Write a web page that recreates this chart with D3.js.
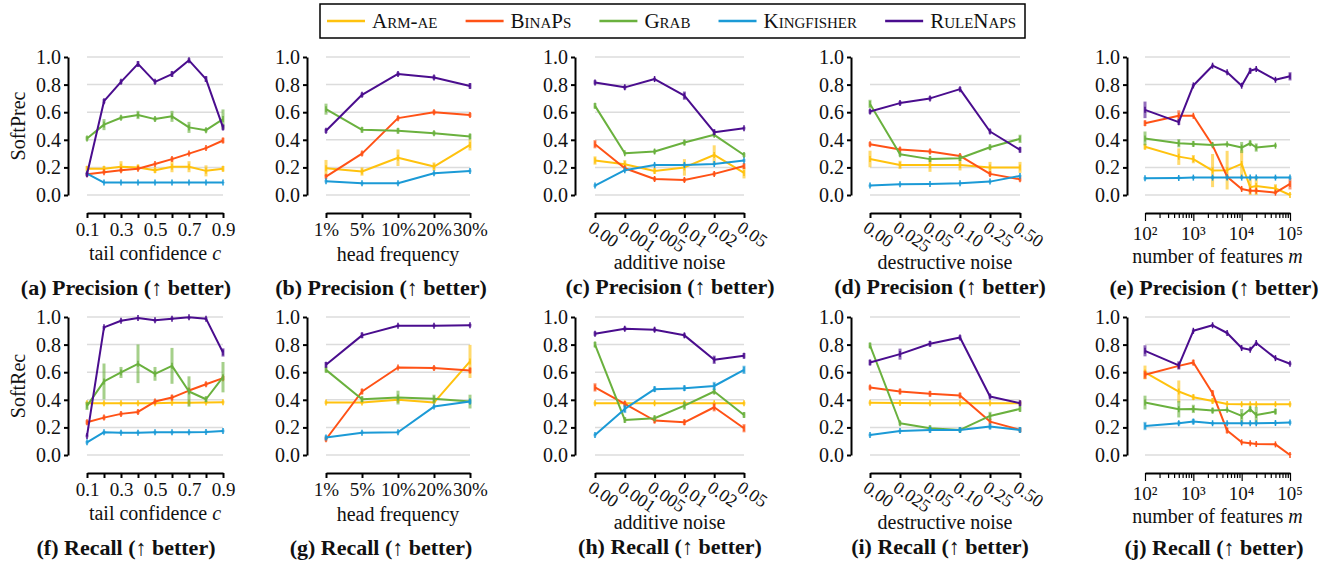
<!DOCTYPE html>
<html>
<head>
<meta charset="utf-8">
<script src="https://cdn.jsdelivr.net/npm/d3@7"></script>
<style>
body { margin: 0; background: #fff; }
text { font-family: "Liberation Serif", "DejaVu Serif", serif; fill: #111; }
</style>
</head>
<body>
<svg id="chart" width="1327" height="563"></svg>
<script>
const methods = ["Arm-ae", "BinaPs", "Grab", "Kingfisher", "RuleNaps"];
const colors = ["#ffc20e", "#ff5216", "#6ab13e", "#1b9ad6", "#4a0d8e"];

// x values per experiment
const tailConf = [0.1, 0.2, 0.3, 0.4, 0.5, 0.6, 0.7, 0.8, 0.9];
const headFreq = ["1%", "5%", "10%", "20%", "30%"];
const addNoise = ["0.00", "0.001", "0.005", "0.01", "0.02", "0.05"];
const destNoise = ["0.00", "0.025", "0.05", "0.10", "0.25", "0.50"];
const numFeat = [100, 500, 1000, 2500, 5000, 10000, 15000, 20000, 50000, 100000];
const yTicks = [0, 0.2, 0.4, 0.6, 0.8, 1.0];

// values, one row per method (Arm-ae, BinaPs, Grab, Kingfisher, RuleNaps)
const precTail = [
  [0.19, 0.19, 0.205, 0.2, 0.18, 0.205, 0.205, 0.175, 0.19],
  [0.15, 0.165, 0.18, 0.19, 0.225, 0.26, 0.30, 0.34, 0.395],
  [0.41, 0.51, 0.56, 0.58, 0.55, 0.57, 0.49, 0.47, 0.55],
  [0.155, 0.09, 0.09, 0.09, 0.09, 0.09, 0.09, 0.09, 0.09],
  [0.15, 0.68, 0.82, 0.95, 0.82, 0.876, 0.976, 0.84, 0.49]
];
const precTailErr = [
  [0.02, 0.02, 0.04, 0.02, 0.02, 0.04, 0.04, 0.04, 0.02],
  [0.01, 0.01, 0.01, 0.01, 0.01, 0.015, 0.01, 0.01, 0.02],
  [0.015, 0.04, 0.015, 0.03, 0.015, 0.04, 0.04, 0.015, 0.07],
  [0.005, 0.005, 0.005, 0.005, 0.005, 0.005, 0.005, 0.005, 0.005],
  [0.015, 0.015, 0.015, 0.02, 0.015, 0.02, 0.015, 0.02, 0.02]
];
const precHead = [
  [0.194, 0.17, 0.27, 0.206, 0.363],
  [0.133, 0.30, 0.557, 0.60, 0.58],
  [0.622, 0.472, 0.465, 0.448, 0.424],
  [0.10, 0.085, 0.085, 0.157, 0.174],
  [0.465, 0.726, 0.877, 0.852, 0.79]
];
const precHeadErr = [
  [0.06, 0.03, 0.06, 0.03, 0.04],
  [0.015, 0.015, 0.015, 0.015, 0.015],
  [0.04, 0.02, 0.02, 0.015, 0.02],
  [0.01, 0.01, 0.01, 0.01, 0.01],
  [0.015, 0.015, 0.015, 0.015, 0.02]
];
const precAdd = [
  [0.25, 0.223, 0.174, 0.2, 0.29, 0.16],
  [0.368, 0.194, 0.116, 0.109, 0.153, 0.21],
  [0.646, 0.303, 0.315, 0.38, 0.436, 0.29],
  [0.068, 0.18, 0.218, 0.218, 0.225, 0.25],
  [0.816, 0.78, 0.84, 0.72, 0.455, 0.484]
];
const precAddErr = [
  [0.03, 0.03, 0.02, 0.06, 0.07, 0.04],
  [0.03, 0.015, 0.015, 0.015, 0.015, 0.02],
  [0.02, 0.01, 0.015, 0.02, 0.015, 0.015],
  [0.01, 0.01, 0.01, 0.01, 0.01, 0.01],
  [0.015, 0.015, 0.01, 0.03, 0.02, 0.01]
];
const precDest = [
  [0.261, 0.218, 0.218, 0.218, 0.20, 0.20],
  [0.368, 0.33, 0.315, 0.283, 0.153, 0.114],
  [0.66, 0.295, 0.26, 0.266, 0.346, 0.407],
  [0.068, 0.077, 0.08, 0.085, 0.097, 0.138],
  [0.605, 0.666, 0.70, 0.767, 0.46, 0.327]
];
const precDestErr = [
  [0.06, 0.03, 0.05, 0.04, 0.04, 0.04],
  [0.015, 0.015, 0.015, 0.015, 0.015, 0.015],
  [0.03, 0.015, 0.02, 0.02, 0.02, 0.03],
  [0.008, 0.008, 0.008, 0.008, 0.008, 0.008],
  [0.015, 0.015, 0.015, 0.015, 0.015, 0.02]
];
const precFeat = [
  [0.35, 0.278, 0.26, 0.177, 0.18, 0.225, 0.056, 0.065, 0.048, 0.0],
  [0.52, 0.574, 0.574, 0.36, 0.133, 0.044, 0.031, 0.031, 0.017, 0.08],
  [0.41, 0.375, 0.37, 0.363, 0.368, 0.344, 0.375, 0.344, 0.358, null],
  [0.121, 0.124, 0.126, 0.126, 0.126, 0.126, 0.126, 0.126, 0.126, 0.126],
  [0.617, 0.528, 0.794, 0.937, 0.889, 0.792, 0.90, 0.913, 0.835, 0.86]
];
const precFeatErr = [
  [0.02, 0.06, 0.03, 0.12, 0.14, 0.10, 0.06, 0.07, 0.03, 0.01],
  [0.02, 0.04, 0.01, 0.01, 0.01, 0.01, 0.01, 0.01, 0.01, 0.04],
  [0.05, 0.03, 0.02, 0.01, 0.01, 0.04, 0.02, 0.03, 0.01, null],
  [0.01, 0.01, 0.01, 0.01, 0.01, 0.01, 0.01, 0.01, 0.01, 0.01],
  [0.06, 0.02, 0.01, 0.01, 0.01, 0.01, 0.02, 0.01, 0.01, 0.03]
];
const recTail = [
  [0.375, 0.375, 0.375, 0.375, 0.375, 0.378, 0.378, 0.38, 0.383],
  [0.237, 0.271, 0.298, 0.312, 0.387, 0.416, 0.467, 0.513, 0.557],
  [0.356, 0.533, 0.598, 0.661, 0.588, 0.646, 0.46, 0.404, 0.564],
  [0.092, 0.165, 0.162, 0.162, 0.165, 0.165, 0.165, 0.167, 0.174],
  [0.138, 0.925, 0.973, 0.993, 0.976, 0.988, 0.998, 0.988, 0.743]
];
const recTailErr = [
  [0.01, 0.01, 0.01, 0.01, 0.01, 0.01, 0.01, 0.01, 0.01],
  [0.015, 0.015, 0.015, 0.015, 0.015, 0.02, 0.015, 0.015, 0.015],
  [0.03, 0.13, 0.04, 0.14, 0.05, 0.13, 0.11, 0.02, 0.11],
  [0.01, 0.01, 0.01, 0.01, 0.01, 0.01, 0.01, 0.01, 0.01],
  [0.01, 0.01, 0.01, 0.01, 0.01, 0.01, 0.01, 0.01, 0.03]
];
const recHead = [
  [0.38, 0.38, 0.40, 0.38, 0.678],
  [0.114, 0.46, 0.634, 0.63, 0.613],
  [0.617, 0.404, 0.416, 0.407, 0.387],
  [0.126, 0.162, 0.165, 0.351, 0.387],
  [0.654, 0.867, 0.937, 0.937, 0.94]
];
const recHeadErr = [
  [0.01, 0.01, 0.02, 0.01, 0.12],
  [0.015, 0.02, 0.01, 0.015, 0.02],
  [0.02, 0.02, 0.05, 0.03, 0.05],
  [0.015, 0.01, 0.01, 0.01, 0.015],
  [0.02, 0.02, 0.01, 0.01, 0.01]
];
const recAdd = [
  [0.375, 0.375, 0.375, 0.375, 0.375, 0.375],
  [0.49, 0.37, 0.25, 0.237, 0.346, 0.194],
  [0.80, 0.254, 0.266, 0.358, 0.46, 0.29],
  [0.145, 0.334, 0.477, 0.484, 0.50, 0.617],
  [0.879, 0.915, 0.908, 0.867, 0.69, 0.719]
];
const recAddErr = [
  [0.01, 0.01, 0.01, 0.01, 0.01, 0.01],
  [0.03, 0.02, 0.02, 0.02, 0.03, 0.03],
  [0.02, 0.02, 0.02, 0.03, 0.02, 0.02],
  [0.01, 0.03, 0.02, 0.02, 0.03, 0.03],
  [0.015, 0.015, 0.015, 0.015, 0.03, 0.02]
];
const recDest = [
  [0.378, 0.376, 0.375, 0.375, 0.375, 0.375],
  [0.489, 0.46, 0.443, 0.431, 0.242, 0.182],
  [0.794, 0.23, 0.194, 0.182, 0.283, 0.334],
  [0.145, 0.174, 0.182, 0.182, 0.206, 0.182],
  [0.67, 0.731, 0.806, 0.852, 0.424, 0.375]
];
const recDestErr = [
  [0.01, 0.01, 0.01, 0.01, 0.01, 0.01],
  [0.015, 0.02, 0.02, 0.02, 0.02, 0.015],
  [0.02, 0.015, 0.02, 0.015, 0.03, 0.02],
  [0.01, 0.01, 0.02, 0.02, 0.02, 0.02],
  [0.02, 0.04, 0.02, 0.015, 0.015, 0.02]
];
const recFeat = [
  [0.598, 0.46, 0.419, 0.392, 0.37, 0.368, 0.368, 0.368, 0.368, 0.368],
  [0.581, 0.646, 0.67, 0.448, 0.177, 0.092, 0.085, 0.08, 0.077, 0.0],
  [0.38, 0.332, 0.334, 0.322, 0.327, 0.283, 0.332, 0.29, 0.315, null],
  [0.21, 0.23, 0.242, 0.23, 0.23, 0.23, 0.23, 0.23, 0.232, 0.235],
  [0.755, 0.649, 0.90, 0.94, 0.884, 0.775, 0.763, 0.811, 0.702, 0.661]
];
const recFeatErr = [
  [0.05, 0.08, 0.02, 0.02, 0.01, 0.01, 0.01, 0.01, 0.01, 0.01],
  [0.03, 0.02, 0.02, 0.02, 0.02, 0.01, 0.01, 0.01, 0.01, 0.01],
  [0.05, 0.06, 0.03, 0.02, 0.01, 0.05, 0.02, 0.06, 0.02, null],
  [0.03, 0.015, 0.02, 0.01, 0.01, 0.01, 0.01, 0.01, 0.01, 0.01],
  [0.04, 0.03, 0.01, 0.01, 0.01, 0.01, 0.01, 0.01, 0.01, 0.01]
];

const svg = d3.select("#chart");
const FS = "20px";   // y ticks, titles
const XFS = "19px";  // x tick labels

// column geometry
const cols = [
  {axisX: 68, x0: 87, x1: 223, cx: 126, kind: "linear", xs: tailConf, title: "tail confidence ", titleIt: "c", titleY: 260, capY: 295},
  {axisX: 307, x0: 326, x1: 470, cx: 381, kind: "point", xs: headFreq, title: "head frequency", titleY: 261, capY: 295},
  {axisX: 575, x0: 595, x1: 744, cx: 670, kind: "rot", xs: addNoise, title: "additive noise", titleY: 269, capY: 294},
  {axisX: 851, x0: 870, x1: 1020, cx: 940, kind: "rot", xs: destNoise, title: "destructive noise", titleY: 269, capY: 294},
  {axisX: 1127, x0: 1145, x1: 1290, cx: 1214, kind: "log", xs: numFeat, title: "number of features ", titleIt: "m", titleY: 263, capY: 295}
];
const rows = [
  {off: 0, label: "SoftPrec", cap: "Precision", letters: "abcde",
   vals: [precTail, precHead, precAdd, precDest, precFeat],
   errs: [precTailErr, precHeadErr, precAddErr, precDestErr, precFeatErr]},
  {off: 260, label: "SoftRec", cap: "Recall", letters: "fghij",
   vals: [recTail, recHead, recAdd, recDest, recFeat],
   errs: [recTailErr, recHeadErr, recAddErr, recDestErr, recFeatErr]}
];

const supers = {"2": "²", "3": "³", "4": "⁴", "5": "⁵"};

rows.forEach(row => {
  const y = d3.scaleLinear().domain([0, 1]).range([195 + row.off, 57 + row.off]);
  const xAxisY = 213 + row.off;

  svg.append("text")
    .attr("transform", `translate(18,${126 + row.off}) rotate(-90)`)
    .attr("text-anchor", "middle")
    .attr("dy", "0.35em")
    .style("font-size", FS)
    .text(row.label);

  cols.forEach((col, ci) => {
    const g = svg.append("g");
    let x;
    if (col.kind === "linear") x = d3.scaleLinear().domain([0.1, 0.9]).range([col.x0, col.x1]);
    else if (col.kind === "log") x = d3.scaleLog().domain([100, 100000]).range([col.x0, col.x1]);
    else x = d3.scalePoint().domain(col.xs).range([col.x0, col.x1]);

    // grid
    g.selectAll(".grid").data(yTicks).enter().append("line")
      .attr("x1", col.x0).attr("x2", col.x1)
      .attr("y1", d => y(d)).attr("y2", d => y(d))
      .attr("stroke", "#dcdcdc").attr("stroke-width", 1.5);

    // y axis
    const ya = g.append("g")
      .attr("transform", `translate(${col.axisX},0)`)
      .call(d3.axisLeft(y).tickValues(yTicks).tickFormat(d3.format(".1f")).tickSize(4).tickSizeOuter(0).tickPadding(3));
    ya.selectAll("path, line").attr("stroke", "#000").attr("stroke-width", 2);
    ya.selectAll("text").style("font-size", FS).attr("fill", "#111");

    // x axis
    let xa;
    if (col.kind === "linear") {
      xa = d3.axisBottom(x).tickValues(tailConf).tickFormat(d => (Math.round(d * 10) % 2 === 1) ? d3.format(".1f")(d) : "");
    } else if (col.kind === "log") {
      xa = d3.axisBottom(x).ticks(10).tickFormat("");
    } else {
      xa = d3.axisBottom(x).tickFormat(col.kind === "rot" ? "" : d => d);
    }
    const xg = g.append("g")
      .attr("transform", `translate(0,${xAxisY})`)
      .call(xa.tickSize(5).tickSizeOuter(0).tickPadding(5));
    xg.selectAll("path, line").attr("stroke", "#000").attr("stroke-width", 2);
    xg.selectAll("text").style("font-size", XFS).attr("fill", "#111");
    if (col.kind === "log") {
      xg.selectAll(".tick line").attr("y2", d => {
        const e = Math.log10(d);
        return Math.abs(e - Math.round(e)) < 1e-9 ? 8 : 5;
      }).attr("stroke-width", 1.2);
      xg.select(".domain").attr("stroke-width", 2);
      [100, 1000, 10000, 100000].forEach(v => {
        const e = String(Math.round(Math.log10(v)));
        g.append("text")
          .attr("x", x(v)).attr("y", xAxisY + 27)
          .attr("text-anchor", "middle")
          .style("font-size", XFS)
          .text("10" + supers[e]);
      });
    }
    if (col.kind === "rot") {
      col.xs.forEach(v => {
        g.append("text")
          .attr("transform", `translate(${x(v) - 5},${xAxisY + 13}) rotate(34)`)
          .attr("dy", "0.3em")
          .style("font-size", "18px")
          .text(v);
      });
    }

    // axis title
    const t = g.append("text")
      .attr("x", (col.x0 + col.x1) / 2).attr("y", col.titleY + row.off)
      .attr("text-anchor", "middle")
      .style("font-size", FS)
      .text(col.title);
    if (col.titleIt) t.append("tspan").style("font-style", "italic").text(col.titleIt);

    // caption
    svg.append("text")
      .attr("x", col.cx).attr("y", col.capY + row.off)
      .attr("text-anchor", "middle")
      .style("font-size", "22px").style("font-weight", "bold")
      .text(`(${row.letters[ci]}) ${row.cap} (↑ better)`);

    // series
    const vals = row.vals[ci], errs = row.errs[ci];
    methods.forEach((m, mi) => {
      const pts = col.xs.map((xv, i) => ({x: xv, v: vals[mi][i], e: errs[mi][i]}))
        .filter(p => p.v !== null);
      const sg = g.append("g");
      sg.selectAll(".err").data(pts).enter().append("line")
        .attr("x1", d => x(d.x)).attr("x2", d => x(d.x))
        .attr("y1", d => y(Math.max(0, d.v - d.e))).attr("y2", d => y(Math.min(1, d.v + d.e)))
        .attr("stroke", colors[mi]).attr("stroke-width", 3).attr("opacity", 0.6);
      sg.append("path")
        .datum(pts)
        .attr("d", d3.line().x(d => x(d.x)).y(d => y(d.v)))
        .attr("fill", "none").attr("stroke", colors[mi]).attr("stroke-width", 2)
        .attr("stroke-linejoin", "round");
      sg.selectAll(".mk").data(pts).enter().append("line")
        .attr("x1", d => x(d.x)).attr("x2", d => x(d.x))
        .attr("y1", d => y(d.v) - 3).attr("y2", d => y(d.v) + 3)
        .attr("stroke", colors[mi]).attr("stroke-width", 1.5);
    });
  });
});

// legend
const lg = svg.append("g");
lg.append("rect").attr("x", 320).attr("y", 4).attr("width", 705).attr("height", 34)
  .attr("fill", "#fff").attr("stroke", "#000").attr("stroke-width", 1.5);
const items = [];
methods.forEach((m, i) => {
  const it = lg.append("g");
  it.append("line").attr("x1", 0).attr("x2", 38).attr("y1", 21).attr("y2", 21)
    .attr("stroke", colors[i]).attr("stroke-width", 2.5);
  const tx = it.append("text").attr("x", 45).attr("y", 21).attr("dy", "0.35em")
    .style("font-size", "21px").style("font-variant", "small-caps")
    .text(m);
  items.push({g: it, w: 45 + tx.node().getComputedTextLength()});
});
const used = d3.sum(items, d => d.w);
const gap = (1016 - 327 - used) / (items.length - 1);
let lx = 327;
items.forEach(d => { d.g.attr("transform", `translate(${lx},0)`); lx += d.w + gap; });
</script>
</body>
</html>
